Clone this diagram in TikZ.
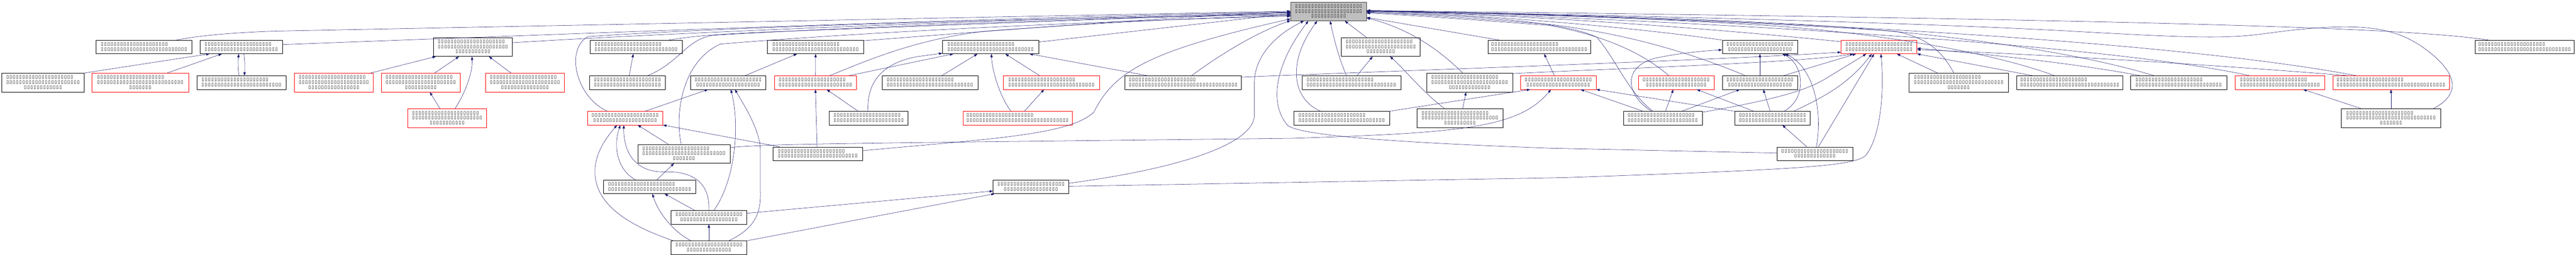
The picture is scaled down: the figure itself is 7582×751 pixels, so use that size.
\documentclass[tikz,border=0pt]{standalone}
\usepackage{fontspec}
\usetikzlibrary{arrows.meta}
\newfontfamily\tofufont{DejaVu Sans}
\definecolor{edgec}{HTML}{191970}
\definecolor{redc}{HTML}{FF0000}
\definecolor{mainfill}{HTML}{BFBFBF}
\definecolor{maindraw}{HTML}{404040}
\newcount\tfc
\newcommand\tfglyph{\makebox[9.45pt]{\tofufont\char"25AF}}
\newcommand\tofus[1]{\tfc=#1\relax\loop\ifnum\tfc>0 \tfglyph\advance\tfc by -1\repeat}
\newcommand\twol[2]{\begin{tabular}{@{}l@{}}\tofus{#1}\\\multicolumn{1}{@{}c@{}}{\tofus{#2}}\end{tabular}}
\newcommand\threel[3]{\begin{tabular}{@{}l@{}}\tofus{#1}\\\tofus{#2}\\\multicolumn{1}{@{}c@{}}{\tofus{#3}}\end{tabular}}
\tikzset{
  bx/.style={draw=black, fill=white, line width=0.8pt, inner sep=0pt, minimum height=40pt, font=\fontsize{13}{14.5}\selectfont},
  rbx/.style={bx, draw=redc},
  tall/.style={minimum height=55.5pt},
  e/.style={draw=edgec, line width=0.8pt, -{Triangle[length=10pt,width=7pt]}}
}
\begin{document}
\begin{tikzpicture}[x={(1pt,0)}, y={(0,-1pt)}]
\fill[white] (0,0) rectangle (7582,751);
\useasboundingbox (0,0) rectangle (7582,751);
% nodes
\node[bx, tall, fill=mainfill, draw=maindraw, minimum width=223pt] (main) at (3910.5,33.5) {\threel{21}{21}{11}};
\node[bx, minimum width=282pt] (n1) at (424,138.5) {\twol{21}{27}};
\node[bx, minimum width=242pt] (n2) at (710,138.5) {\twol{21}{23}};
\node[bx, tall, minimum width=243pt] (n3) at (126.5,243.5) {\threel{21}{23}{12}};
\node[rbx, tall, minimum width=284pt] (n4) at (413,243.5) {\threel{21}{27}{7}};
\node[bx, minimum width=263pt] (n5) at (710.5,243.5) {\twol{21}{25}};
\node[bx, tall, minimum width=232pt] (n6) at (1392,138.5) {\threel{21}{22}{11}};
\node[rbx, tall, minimum width=231pt] (n7) at (982.5,243.5) {\threel{21}{22}{16}};
\node[rbx, tall, minimum width=231pt] (n8) at (1238.5,243.5) {\threel{21}{22}{10}};
\node[rbx, tall, minimum width=232pt] (n9) at (1545,243.5) {\threel{21}{22}{15}};
\node[rbx, tall, minimum width=232pt] (n10) at (1316,348.5) {\threel{21}{22}{11}};
\node[bx, minimum width=272pt] (n11) at (1872,138.5) {\twol{21}{26}};
\node[bx, minimum width=223pt] (n12) at (1846.5,243.5) {\twol{21}{21}};
\node[bx, minimum width=222pt] (n13) at (2143,243.5) {\twol{21}{20}};
\node[rbx, minimum width=222pt] (n15) at (1840,348.5) {\twol{21}{20}};
\node[bx, tall, minimum width=272pt] (n16) at (2013,453.5) {\threel{21}{26}{7}};
\node[bx, minimum width=264pt] (n17) at (2407,453.5) {\twol{21}{25}};
\node[bx, minimum width=272pt] (n18) at (1912,551) {\twol{21}{26}};
\node[bx, minimum width=223pt] (n19) at (2086.5,641) {\twol{21}{18}};
\node[bx, minimum width=223pt] (n20) at (2086.5,730.5) {\twol{21}{14}};
\node[bx, minimum width=283pt] (n22) at (2400.5,138.5) {\twol{21}{27}};
\node[rbx, minimum width=242pt] (n14) at (2400,243.5) {\twol{21}{23}};
\node[bx, minimum width=283pt] (n23) at (2915.5,138.5) {\twol{21}{27}};
\node[bx, minimum width=282pt] (n24) at (2737,243.5) {\twol{21}{27}};
\node[rbx, minimum width=283pt] (n25) at (3094.5,243.5) {\twol{21}{27}};
\node[bx, minimum width=232pt] (n26) at (2557,348.5) {\twol{21}{22}};
\node[rbx, minimum width=322pt] (n27) at (2995,348.5) {\twol{21}{32}};
\node[bx, minimum width=223pt] (n21) at (3034.5,551) {\twol{21}{17}};
\node[bx, minimum width=343pt] (n28) at (3482.5,243.5) {\twol{21}{34}};
\node[bx, tall, minimum width=232pt] (n32) at (4064,138.5) {\threel{21}{22}{9}};
\node[bx, minimum width=303pt] (n33) at (4530.5,138.5) {\twol{21}{30}};
\node[bx, minimum width=291pt] (n29) at (3977.5,243.5) {\twol{21}{28}};
\node[bx, tall, minimum width=253pt] (n34) at (4325.5,243.5) {\threel{21}{24}{13}};
\node[rbx, minimum width=223pt] (n35) at (4586.5,243.5) {\twol{21}{20}};
\node[bx, minimum width=282pt] (n30) at (3949,348.5) {\twol{21}{27}};
\node[bx, tall, minimum width=252pt] (n36) at (4297,348.5) {\threel{21}{24}{10}};
\node[rbx, minimum width=223pt] (n37) at (4933.5,243.5) {\twol{21}{19}};
\node[bx, minimum width=222pt] (n38) at (5180,138.5) {\twol{21}{20}};
\node[bx, minimum width=222pt] (n39) at (5180,243.5) {\twol{21}{20}};
\node[bx, minimum width=232pt] (n40) at (4894,348.5) {\twol{21}{22}};
\node[bx, minimum width=222pt] (n41) at (5217,348.5) {\twol{21}{21}};
\node[bx, minimum width=223pt] (n31) at (5341.5,453.5) {\twol{21}{13}};
\node[rbx, minimum width=223pt] (nr) at (5530.5,138.5) {\twol{21}{21}};
\node[bx, tall, minimum width=292pt] (n42) at (5765,243.5) {\threel{21}{28}{7}};
\node[bx, minimum width=312pt] (n43) at (6092,243.5) {\twol{21}{31}};
\node[bx, minimum width=283pt] (n44) at (6412.5,243.5) {\twol{21}{27}};
\node[rbx, minimum width=263pt] (n45) at (6710.5,243.5) {\twol{21}{25}};
\node[rbx, minimum width=343pt] (n46) at (7037.5,243.5) {\twol{21}{34}};
\node[bx, minimum width=291pt] (n47) at (7430.5,138.5) {\twol{21}{29}};
\node[bx, tall, minimum width=293pt] (n48) at (7037.5,348.5) {\threel{21}{28}{7}};
% edges
\draw[e] ([xshift=96pt]n1.north) .. controls (570,108) and (650,98) .. (800,92) -- ([yshift=0.5pt]main.west);
\draw[e] ([yshift=7pt]n2.east) .. controls (1800,95) and (3000,50) .. ([yshift=-1.5pt]main.west);
\draw[e] (n3.north east) .. controls (400,192) and (530,172) .. ([xshift=-93pt]n2.south);
\draw[e] ([xshift=79pt]n4.north) -- ([xshift=-57pt]n2.south);
\draw[e] ([xshift=-6.5pt]n5.north) .. controls (700,205) and (700,180) .. ([xshift=-7pt]n2.south);
\draw[e] ([xshift=8pt]n2.south) .. controls (721,180) and (721,205) .. ([xshift=8.5pt]n5.north);
\draw[e] ([yshift=12.5pt]n6.east) .. controls (2000,95) and (3000,55) .. ([yshift=-3.5pt]main.west);
\draw[e] ([xshift=108.5pt]n7.north) -- ([xshift=-109pt]n6.south);
\draw[e] ([xshift=40.5pt]n8.north) -- ([xshift=-41pt]n6.south);
\draw[e] ([xshift=-41pt]n9.north) -- ([xshift=47pt]n6.south);
\draw[e] ([xshift=-21pt]n10.north) -- ([xshift=26.5pt]n8.south);
\draw[e] ([xshift=23pt]n10.north) .. controls (1370,275) and (1392,210) .. ([xshift=-3pt]n6.south);
\draw[e] ([xshift=97pt]n11.north) .. controls (2030,108) and (2100,100) .. (2320,92) -- ([yshift=-2.5pt]main.west);
\draw[e] ([xshift=5.5pt]n12.north) -- ([xshift=-8pt]n11.south);
\draw[e] ([xshift=59.5pt]n12.north) .. controls (2000,185) and (2020,115) .. (2100,104) .. controls (2500,80) and (3300,50) .. ([yshift=-8.5pt]main.west);
\draw[e] ([xshift=-52pt]n15.north) .. controls (1700,290) and (1660,150) .. (1730,108) .. controls (2200,75) and (3300,48) .. ([yshift=-10.5pt]main.west);
\draw[e] ([xshift=59pt]n15.north) -- ([xshift=-59pt]n13.south);
\draw[e] ([xshift=-46pt]n16.north) -- ([xshift=37pt]n15.south);
\draw[e] ([xshift=-8pt]n16.north) .. controls (1985,330) and (2010,180) .. (2120,130) .. controls (2600,90) and (3300,60) .. ([yshift=-14.5pt]main.west);
\draw[e] ([yshift=18.5pt]n16.east) .. controls (2250,426) and (2400,424) .. (3000,417) -- (3800,408) .. controls (4300,392) and (4470,378) .. ([xshift=-21.5pt]n35.south);
\draw[e] ([xshift=-112pt]n17.north) -- (n15.south east);
\draw[e] ([xshift=-2pt]n17.north) -- (n14.south);
\draw[e] ([yshift=9pt]n17.east) .. controls (2900,410) and (3150,400) .. (3220,330) .. controls (3280,210) and (3380,150) .. ([yshift=6pt]main.south west);
\draw[e] ([xshift=-41pt]n18.north) .. controls (1815,500) and (1805,430) .. ([xshift=-14pt]n15.south);
\draw[e] ([xshift=21pt]n18.north) -- ([xshift=-29pt]n16.south);
\draw[e] ([xshift=-41.5pt]n19.north) -- ([xshift=44pt]n18.south);
\draw[e] (n19.north) .. controls (2090,540) and (2040,505) .. (1960,507) .. controls (1870,510) and (1835,450) .. ([xshift=-4pt]n15.south);
\draw[e] ([xshift=14.5pt]n19.north) .. controls (2160,540) and (2180,380) .. ([xshift=8pt]n13.south);
\draw[e] ([yshift=12pt]n19.east) -- ([yshift=-12.5pt]n21.west);
\draw[e] (n20.north) -- (n19.south);
\draw[e] ([xshift=-52.5pt]n20.north) .. controls (1975,680) and (1935,620) .. ([xshift=8pt]n18.south);
\draw[e] ([xshift=-104.5pt]n20.north) .. controls (1850,665) and (1740,600) .. (1752,490) .. controls (1758,440) and (1790,400) .. ([xshift=-24pt]n15.south);
\draw[e] ([xshift=58.5pt]n20.north) .. controls (2230,670) and (2240,620) .. (2238,560) -- (2238,440) .. controls (2235,380) and (2190,310) .. ([xshift=20pt]n13.south);
\draw[e] (n20.north east) -- ([xshift=5pt]n21.south west);
\draw[e] ([xshift=50pt]n13.north) -- ([xshift=-54.5pt]n22.south);
\draw[e] ([yshift=18.5pt]n22.east) .. controls (3000,85) and (3500,45) .. ([yshift=-4.5pt]main.west);
\draw[e] (n14.north) -- (n22.south);
\draw[e] ([xshift=99pt]n14.north) -- ([xshift=-109.5pt]n23.south);
\draw[e] ([xshift=42pt]n14.north) .. controls (2560,175) and (2700,115) .. (2900,92) .. controls (3200,70) and (3500,52) .. ([yshift=-12.5pt]main.west);
\draw[e] ([xshift=-31pt]n26.north) -- ([xshift=33pt]n14.south);
\draw[e] ([xshift=-2pt]n26.north) .. controls (2550,240) and (2600,185) .. (2700,167) -- ([yshift=-18.5pt]n23.west);
\draw[e] ([xshift=35pt]n24.north) -- ([xshift=-38.5pt]n23.south);
\draw[e] ([xshift=-19pt]n27.north) .. controls (2945,290) and (2920,210) .. ([xshift=2.5pt]n23.south);
\draw[e] ([xshift=20pt]n27.north) -- ([xshift=-21.5pt]n25.south);
\draw[e] ([xshift=-34.5pt]n25.north) -- ([xshift=43.5pt]n23.south);
\draw[e] ([xshift=-105.5pt]n28.north) -- ([xshift=114.5pt]n23.south);
\draw[e] ([yshift=14.5pt]n23.east) -- ([yshift=-6.5pt]main.west);
\draw[e] ([xshift=24.5pt]n28.north) .. controls (3600,155) and (3700,95) .. ([yshift=1pt]main.south west);
\draw[e] ([yshift=16pt]n28.east) .. controls (4200,205) and (5000,180) .. ([yshift=-15.5pt]nr.west);
\draw[e] ([yshift=10.5pt]n21.east) .. controls (3450,500) and (3690,430) .. (3692,340) -- (3692,240) .. controls (3695,160) and (3760,100) .. ([xshift=-72.5pt]main.south);
\draw[e] ([yshift=1.5pt]n21.east) -- (4600,524) .. controls (5300,500) and (5450,490) .. (5490,460) .. controls (5540,400) and (5545,250) .. ([xshift=5.5pt]nr.south);
\draw[e] ([xshift=-62pt]n30.north) .. controls (3800,290) and (3790,180) .. ([xshift=-33.5pt]main.south);
\draw[e] ([xshift=-14.5pt]n29.north) .. controls (3940,170) and (3925,110) .. ([xshift=4.5pt]main.south);
\draw[e] ([xshift=16.5pt]n29.north) -- ([xshift=-24pt]n32.south);
\draw[e] ([xshift=-42pt]n32.north) -- ([xshift=47.5pt]main.south);
\draw[e] ([xshift=-45pt]n36.north) .. controls (4190,275) and (4130,200) .. ([xshift=27pt]n32.south);
\draw[e] ([xshift=8pt]n36.north) -- ([xshift=-10.5pt]n34.south);
\draw[e] ([xshift=-20.5pt]n34.north) .. controls (4240,150) and (4150,85) .. ([yshift=-19.5pt]main.east);
\draw[e] ([xshift=-118.5pt]n33.north) -- ([yshift=-18pt]main.east);
\draw[e] ([xshift=-11.5pt]n35.north) -- ([xshift=14.5pt]n33.south);
\draw[e] ([yshift=26.5pt]n34.east) .. controls (4800,200) and (5300,185) .. ([xshift=-75.5pt]nr.south);
\draw[e] (n30.north east) -- ([xshift=-82.5pt]n35.south);
\draw[e] ([xshift=-21.5pt]n37.north) .. controls (4850,170) and (4750,110) .. (4560,75) .. controls (4300,55) and (4100,42) .. ([yshift=-5pt]main.east);
\draw[e] ([xshift=-58pt]n40.north) -- ([xshift=65.5pt]n35.south);
\draw[e] ([xshift=8pt]n40.north) -- ([xshift=-8.5pt]n37.south);
\draw[e] ([xshift=56pt]n40.north) -- ([xshift=-59pt]n39.south);
\draw[e] ([xshift=-33pt]n40.north) .. controls (4790,285) and (4770,200) .. (4870,172) .. controls (4950,155) and (5020,150) .. ([yshift=-8.5pt]n38.west);
\draw[e] ([xshift=-29pt]n40.north) .. controls (4790,270) and (4760,180) .. (4700,110) .. controls (4600,60) and (4300,45) .. ([yshift=-3pt]main.east);
\draw[e] ([yshift=17.5pt]n40.east) .. controls (5250,290) and (5330,260) .. (5380,228) -- ([xshift=-37.5pt]nr.south);
\draw[e] (n41.north west) -- (n35.south east);
\draw[e] ([xshift=-55pt]n41.north) -- ([xshift=60.5pt]n37.south);
\draw[e] ([xshift=-7pt]n41.north) -- ([xshift=10pt]n39.south);
\draw[e] ([xshift=34pt]n41.north) .. controls (5320,290) and (5310,190) .. ([xshift=66pt]n38.south);
\draw[e] ([xshift=62pt]n41.north) .. controls (5360,290) and (5440,250) .. ([xshift=-21.5pt]nr.south);
\draw[e] ([xshift=-23.5pt]n31.north) -- ([xshift=29pt]n41.south);
\draw[e] ([xshift=4.5pt]n31.north) .. controls (5365,330) and (5340,200) .. ([xshift=74pt]n38.south);
\draw[e] ([xshift=10.5pt]n31.north) -- ([xshift=-14.5pt]nr.south);
\draw[e] ([yshift=2pt]n31.west) -- (4560,437) .. controls (4100,420) and (3830,400) .. (3790,370) .. controls (3730,300) and (3760,180) .. ([xshift=-59.5pt]main.south);
\draw[e] (n39.north) -- (n38.south);
\draw[e] ([xshift=-43pt]n39.north) .. controls (5000,165) and (4800,100) .. (4560,72) .. controls (4300,50) and (4100,40) .. ([yshift=-1pt]main.east);
\draw[e] ([xshift=69pt]n39.north) -- ([xshift=-67.5pt]nr.south);
\draw[e] (n38.north west) .. controls (4800,80) and (4400,45) .. (main.east);
\draw[e] ([yshift=15.5pt]nr.west) .. controls (5000,80) and (4500,45) .. ([yshift=1pt]main.east);
\draw[e] ([xshift=-62pt]n42.north) -- ([xshift=52.5pt]nr.south);
\draw[e] ([xshift=-14pt]n42.north) .. controls (5720,160) and (5680,110) .. (5575,92) .. controls (5200,65) and (4400,38) .. ([yshift=1pt]main.east);
\draw[e] ([xshift=-109pt]n43.north) -- (nr.south east);
\draw[e] ([xshift=-45pt]n43.north) .. controls (5850,150) and (5500,95) .. (5200,75) .. controls (4700,45) and (4300,36) .. ([yshift=1.5pt]main.east);
\draw[e] ([xshift=-72.5pt]n44.north) .. controls (6100,150) and (5700,95) .. (5300,72) .. controls (4800,45) and (4300,37) .. ([yshift=1.5pt]main.east);
\draw[e] ([xshift=-113.5pt]n44.north) .. controls (6100,185) and (5800,155) .. ([yshift=-4pt]nr.east);
\draw[e] ([xshift=-89.5pt]n45.north) .. controls (6200,130) and (5000,60) .. ([yshift=2pt]main.east);
\draw[e] ([xshift=-127.5pt]n46.north) .. controls (6500,190) and (6000,160) .. ([yshift=-8pt]nr.east);
\draw[e] ([xshift=-102.5pt]n46.north) .. controls (6500,140) and (5500,60) .. ([yshift=2pt]main.east);
\draw[e] ([xshift=-106.5pt]n47.north) .. controls (7100,85) and (6500,60) .. ([yshift=2.5pt]main.east);
\draw[e] (n48.north) -- (n46.south);
\draw[e] ([xshift=-87.5pt]n48.north) -- ([xshift=68.5pt]n45.south);
\draw[e] ([xshift=124.5pt]n48.north) .. controls (7240,280) and (7240,220) .. (7139,145) .. controls (7050,80) and (6950,60) .. (6667,99) .. controls (6550,115) and (6450,112) .. (6080,91) .. controls (5500,60) and (4500,40) .. ([yshift=2pt]main.east);
\end{tikzpicture}
\end{document}
